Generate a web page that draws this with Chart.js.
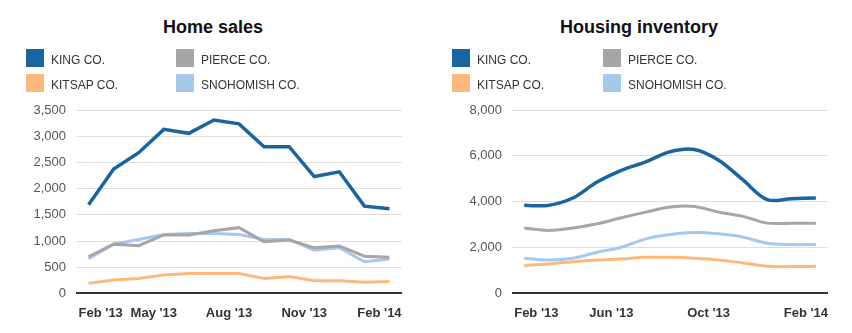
<!DOCTYPE html>
<html>
<head>
<meta charset="utf-8">
<script src="https://cdn.jsdelivr.net/npm/chart.js@4.4.0/dist/chart.umd.min.js"></script>
<style>
  body { margin: 0; background: #fff; font-family: Arial, "Liberation Sans", sans-serif; }
  .wrap { width: 852px; height: 333px; display: flex; }
  .panel { position: relative; width: 426px; height: 333px; }
  .panel canvas { position: absolute; left: 0; top: 0; }
  .title { position: absolute; left: 0; top: 16px; width: 426px; text-align: center;
           font-size: 18px; font-weight: bold; line-height: 22px; color: #111; }
  .item { position: absolute; height: 18px; }
  .item .sw { position: absolute; left: 0; top: 0; width: 18px; height: 18px; }
  .item .lb { position: absolute; left: 25px; top: 3px; font-size: 12px; line-height: 17px;
              color: #333; white-space: nowrap; }
</style>
</head>
<body>
<div class="wrap">
  <div class="panel" id="p1">
    <div class="title">Home sales</div>
    <canvas id="salesChart" width="426" height="333"></canvas>
  </div>
  <div class="panel" id="p2">
    <div class="title">Housing inventory</div>
    <canvas id="invChart" width="426" height="333"></canvas>
  </div>
</div>
<script>
// setup
const categories = ["Feb '13", "Mar '13", "Apr '13", "May '13", "Jun '13", "Jul '13", "Aug '13",
                    "Sep '13", "Oct '13", "Nov '13", "Dec '13", "Jan '14", "Feb '14"];
const seriesNames = ['KING CO.', 'PIERCE CO.', 'KITSAP CO.', 'SNOHOMISH CO.'];
const seriesColors = ['#1a65a0', '#a6a6a6', '#fdb97c', '#a6c9eb'];

const salesKing      = [1690, 2375, 2685, 3130, 3055, 3310, 3235, 2800, 2800, 2230, 2320, 1665, 1615];
const salesPierce    = [700, 940, 910, 1115, 1115, 1195, 1255, 985, 1020, 870, 905, 710, 690];
const salesKitsap    = [195, 255, 285, 350, 380, 380, 380, 285, 320, 240, 240, 215, 225];
const salesSnohomish = [660, 940, 1030, 1125, 1145, 1145, 1125, 1030, 1030, 825, 870, 605, 655];

const invKing      = [3840, 3840, 4160, 4860, 5370, 5740, 6180, 6280, 5810, 4950, 4090, 4130, 4160];
const invPierce    = [2850, 2745, 2850, 3035, 3300, 3545, 3765, 3795, 3545, 3360, 3065, 3065, 3065];
const invKitsap    = [1210, 1285, 1385, 1460, 1505, 1575, 1575, 1535, 1460, 1330, 1180, 1170, 1180];
const invSnohomish = [1535, 1460, 1535, 1795, 2015, 2380, 2570, 2655, 2600, 2455, 2190, 2130, 2130];

const salesXTicks = ["Feb '13", "May '13", "Aug '13", "Nov '13", "Feb '14"];
const invXTicks = ["Feb '13", "Jun '13", "Oct '13", "Feb '14"];

// legend boxes (html)
function buildLegend(panelId, col2Left) {
  const panel = document.getElementById(panelId);
  seriesNames.forEach((name, i) => {
    const item = document.createElement('div');
    item.className = 'item';
    item.style.left = (i % 2 === 0 ? 26 : col2Left) + 'px';
    item.style.top = (49 + Math.floor(i / 2) * 25) + 'px';
    item.innerHTML = '<span class="sw" style="background:' + seriesColors[i] + '"></span>' +
                     '<span class="lb">' + name + '</span>';
    panel.appendChild(item);
  });
}
buildLegend('p1', 176);
buildLegend('p2', 177);

function makeDatasets(values, tension) {
  return values.map((v, i) => ({
    label: seriesNames[i],
    data: v,
    borderColor: seriesColors[i],
    backgroundColor: seriesColors[i],
    borderWidth: i === 0 ? 3.5 : 3,
    pointRadius: 0,
    tension: tension,
    fill: false
  }));
}

// config
function makeConfig(values, tension, yMax, yStep, tickList, leftPad) {
  return {
    type: 'line',
    data: { labels: categories, datasets: makeDatasets(values, tension) },
    options: {
      responsive: false,
      animation: false,
      layout: { padding: { top: 110, left: leftPad, right: 24, bottom: 0 } },
      plugins: { legend: { display: false }, tooltip: { enabled: false } },
      scales: {
        x: {
          offset: true,
          grid: { display: false, drawTicks: false },
          border: { display: false },
          afterBuildTicks: (scale) => {
            // extra empty tick so the first label is aligned inside, last stays centered
            scale.ticks.push({ value: categories.length - 1 });
          },
          ticks: {
            autoSkip: false,
            maxRotation: 0,
            align: 'inner',
            labelOffset: -10,
            padding: 12,
            color: '#333',
            font: { family: 'Arial, "Liberation Sans"', size: 13, weight: 'bold' },
            callback: (val, idx) => (idx < categories.length && tickList.includes(categories[idx])) ? categories[idx] : ''
          }
        },
        y: {
          min: 0,
          max: yMax,
          border: { display: false },
          grid: {
            drawTicks: false,
            color: (ctx) => ctx.tick && ctx.tick.value === 0 ? '#333' : '#dedede',
            lineWidth: (ctx) => ctx.tick && ctx.tick.value === 0 ? 2 : 1
          },
          ticks: {
            stepSize: yStep,
            padding: 10,
            color: '#555',
            font: { family: 'Arial, "Liberation Sans"', size: 13 },
            callback: (v) => v.toLocaleString('en-US')
          }
        }
      }
    }
  };
}

// render init block
const salesChart = new Chart(
  document.getElementById('salesChart'),
  makeConfig([salesKing, salesPierce, salesKitsap, salesSnohomish], 0, 3500, 500, salesXTicks, 23.5)
);
const invChart = new Chart(
  document.getElementById('invChart'),
  makeConfig([invKing, invPierce, invKitsap, invSnohomish], 0.35, 8000, 2000, invXTicks, 33.5)
);
</script>
</body>
</html>
